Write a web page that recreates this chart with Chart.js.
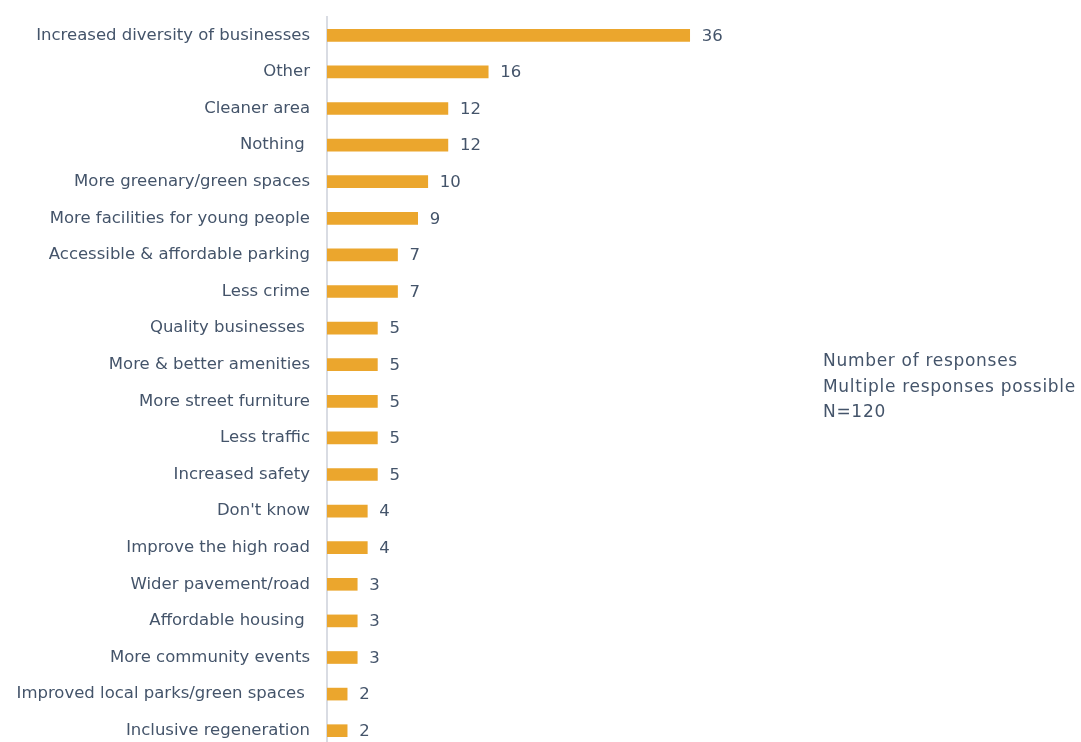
<!DOCTYPE html>
<html>
<head>
<meta charset="utf-8">
<script src="https://cdn.jsdelivr.net/npm/chart.js@4/dist/chart.umd.min.js"></script>
<style>
  html, body { margin: 0; padding: 0; background: #fff; overflow: hidden; }
  #wrap { position: relative; width: 1081px; height: 760px; }
  #note {
    position: absolute; left: 823px; top: 348px;
    font-family: "DejaVu Sans", sans-serif; font-size: 17px; line-height: 25.5px;
    letter-spacing: 0.7px;
    color: #44546A; white-space: nowrap;
  }
</style>
</head>
<body>
<div id="wrap">
  <canvas id="c" width="1081" height="760"></canvas>
  <div id="note">Number of responses<br>Multiple responses possible<br>N=120</div>
</div>
<script>
const categories = [
  "Increased diversity of businesses",
  "Other",
  "Cleaner area",
  "Nothing ",
  "More greenary/green spaces",
  "More facilities for young people",
  "Accessible & affordable parking",
  "Less crime",
  "Quality businesses ",
  "More & better amenities",
  "More street furniture",
  "Less traffic",
  "Increased safety",
  "Don't know",
  "Improve the high road",
  "Wider pavement/road",
  "Affordable housing ",
  "More community events",
  "Improved local parks/green spaces ",
  "Inclusive regeneration"
];
const responses = [36, 16, 12, 12, 10, 9, 7, 7, 5, 5, 5, 5, 5, 4, 4, 3, 3, 3, 2, 2];

const FONT = "DejaVu Sans";
const TEXT = "#44546A";
const SIZE = 16.5;

// Value labels printed just past the end of each bar
const valueLabels = {
  id: "valueLabels",
  afterDatasetsDraw(chart) {
    const ctx = chart.ctx;
    const meta = chart.getDatasetMeta(0);
    ctx.save();
    ctx.font = SIZE + "px '" + FONT + "'";
    ctx.fillStyle = TEXT;
    ctx.textAlign = "left";
    ctx.textBaseline = "middle";
    meta.data.forEach((bar, i) => {
      ctx.fillText(String(responses[i]), bar.x + 12, bar.y + 1);
    });
    ctx.restore();
  }
};

new Chart(document.getElementById("c"), {
  type: "bar",
  data: {
    labels: categories,
    datasets: [{
      data: responses,
      backgroundColor: "#EBA62D",
      barThickness: 12
    }]
  },
  options: {
    indexAxis: "y",
    responsive: false,
    animation: false,
    layout: { padding: { top: 17, bottom: 11, right: 351, left: 0 } },
    plugins: { legend: { display: false }, tooltip: { enabled: false } },
    scales: {
      x: {
        display: false,
        min: 0,
        max: 40
      },
      y: {
        afterFit(scale) {
          scale.width = 327;
          scale.paddingTop = 0;
          scale.paddingBottom = 0;
        },
        grid: { display: false, drawTicks: false },
        border: { display: true, color: "#D9DCE3", width: 2 },
        ticks: {
          padding: 17,
          color: TEXT,
          font: { family: FONT, size: SIZE }
        }
      }
    }
  },
  plugins: [valueLabels]
});
</script>
</body>
</html>
